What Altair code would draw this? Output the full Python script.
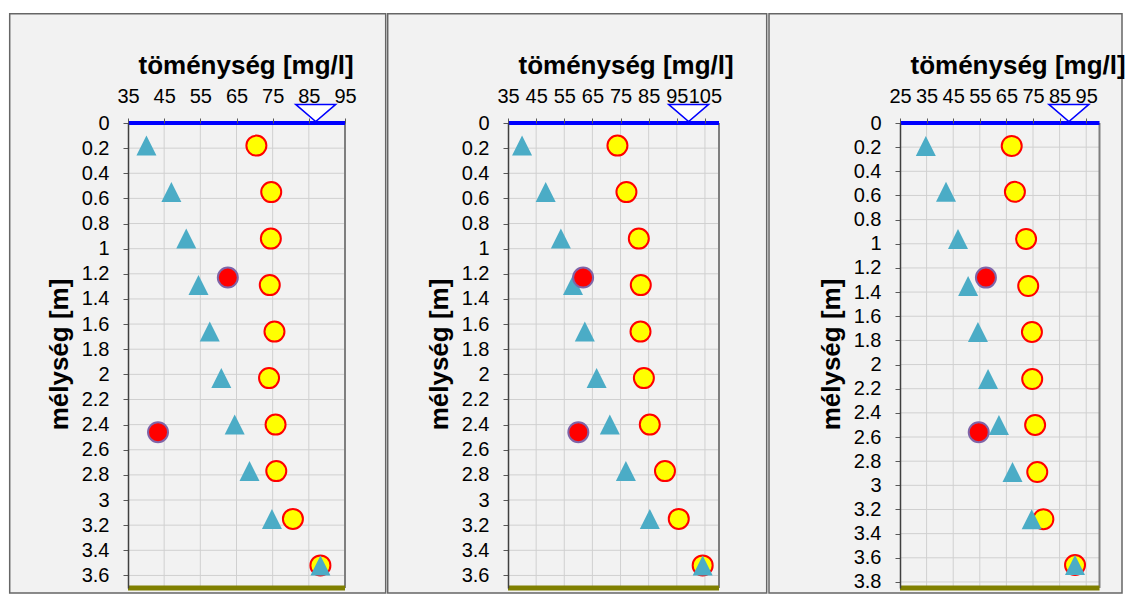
import altair as alt
import pandas as pd

FONT = "Liberation Sans"

# ---------------- data ----------------
# panel 1
depth_1 = [0.18, 0.55, 0.92, 1.29, 1.66, 2.03, 2.40, 2.77, 3.15, 3.52]
yellow_1 = [70.5, 74.6, 74.5, 74.2, 75.5, 74.0, 75.8, 76.0, 80.6, 88.2]
tri_1 = [40.1, 47.0, 51.1, 54.5, 57.6, 60.8, 64.5, 68.6, 74.8, 88.2]
red_depth_1 = [1.23, 2.46]
red_1 = [62.6, 43.3]
water_1 = 86.9

# panel 2
depth_2 = [0.18, 0.55, 0.92, 1.29, 1.66, 2.03, 2.40, 2.77, 3.15, 3.52]
yellow_2 = [73.9, 77.1, 81.5, 82.2, 82.1, 83.3, 85.4, 90.8, 95.7, 104.2]
tri_2 = [40.0, 48.4, 53.8, 58.1, 62.3, 66.5, 71.2, 76.9, 85.4, 104.2]
red_depth_2 = [1.23, 2.46]
red_2 = [61.7, 60.0]
water_2 = 99.2

# panel 3
depth_3 = [0.19, 0.57, 0.96, 1.35, 1.73, 2.12, 2.50, 2.89, 3.28, 3.66]
yellow_3 = [67.0, 68.2, 72.4, 73.2, 74.6, 74.7, 75.8, 76.6, 78.9, 90.8]
tri_3 = [34.7, 42.3, 46.8, 50.6, 54.3, 58.1, 62.2, 67.3, 74.5, 90.8]
red_depth_3 = [1.28, 2.56]
red_3 = [57.3, 54.6]
water_3 = 88.5

x_ticks_1 = [35, 45, 55, 65, 75, 85, 95]
x_ticks_2 = [35, 45, 55, 65, 75, 85, 95, 105]
x_ticks_3 = [25, 35, 45, 55, 65, 75, 85, 95]
y_ticks_12 = [round(0.2 * i, 1) for i in range(19)]
y_ticks_3 = [round(0.2 * i, 1) for i in range(20)]

X_TITLE = "töménység [mg/l]"
Y_TITLE = "mélység [m]"


def panel(depths, yellow, tri, red_d, red, water, xdom, xticks, ymax, yticks,
          width, xrange_px, height, box):
    xs = alt.Scale(domain=xdom, range=[0, xrange_px], nice=False, zero=False)
    ys = alt.Scale(domain=[0, ymax], reverse=True, nice=False, zero=False)

    x_axis = alt.Axis(
        orient="top", values=xticks, format="d", title=X_TITLE,
        titleFont=FONT, titleFontSize=26, titleFontWeight="bold", titleColor="black",
        titleX=117.6, titleY=-50, titleAlign="center", titleBaseline="alphabetic",
        labelFont=FONT, labelFontSize=20, labelColor="black", labelPadding=12,
        labelOverlap=False, labelFlush=False, tickSize=5, tickColor="#595959",
        domain=False, grid=False, zindex=1,
    )
    y_axis = alt.Axis(
        values=yticks, format=".1~f", title=Y_TITLE,
        titleFont=FONT, titleFontSize=26, titleFontWeight="bold", titleColor="black",
        titleX=-61, titleY=231, titleAlign="center", titleBaseline="alphabetic", titleAngle=270,
        labelFont=FONT, labelFontSize=20, labelColor="black", labelPadding=14,
        labelOverlap=False, labelFlush=False, tickSize=5, tickColor="#595959",
        domainColor="#404040", domainWidth=1.5, grid=False, zindex=1,
    )

    X = lambda f: alt.X(f, type="quantitative", scale=xs, axis=x_axis)
    Y = lambda f: alt.Y(f, type="quantitative", scale=ys, axis=y_axis)

    bg = alt.Chart(pd.DataFrame({"k": [0]})).mark_rect(
        fill="#F2F2F2", stroke="#666666", strokeWidth=1.5
    ).encode(x=alt.value(box[0]), x2=alt.value(box[1]),
             y=alt.value(box[2]), y2=alt.value(box[3]))

    vgrid = alt.Chart(pd.DataFrame({"v": xticks[1:]})).mark_rule(
        color="#D0D0D0", strokeWidth=1).encode(x=X("v"))
    hgrid = alt.Chart(pd.DataFrame({"d": yticks[1:], "v0": xdom[0], "v1": xdom[1]})).mark_rule(
        color="#D0D0D0", strokeWidth=1).encode(x=X("v0"), x2="v1", y=Y("d"))
    rborder = alt.Chart(pd.DataFrame({"v": [xdom[1]], "d0": [0], "d1": [ymax]})).mark_rule(
        color="#7F7F7F", strokeWidth=2).encode(x=X("v"), y=Y("d0"), y2="d1")
    ground = alt.Chart(pd.DataFrame({"v0": [xdom[0]], "v1": [xdom[1]], "d": [ymax]})).mark_rule(
        color="#808000", strokeWidth=5).encode(x=X("v0"), x2="v1", y=Y("d"))
    surface = alt.Chart(pd.DataFrame({"v0": [xdom[0]], "v1": [xdom[1]], "d": [0]})).mark_rule(
        color="#0000FF", strokeWidth=4).encode(x=X("v0"), x2="v1", y=Y("d"))

    yel = alt.Chart(pd.DataFrame({"v": yellow, "d": depths})).mark_point(
        shape="circle", filled=True, fill="#FFFF00", stroke="#FF0000", strokeWidth=2,
        size=400, opacity=1).encode(x=X("v"), y=Y("d"))
    trg = alt.Chart(pd.DataFrame({"v": tri, "d": depths})).mark_point(
        shape="M-1,1L1,1L0,-1Z", filled=True, fill="#4BACC6", strokeWidth=0,
        size=400, opacity=1).encode(x=X("v"), y=Y("d"))
    rd = alt.Chart(pd.DataFrame({"v": red, "d": red_d})).mark_point(
        shape="circle", filled=True, fill="#FF0000", stroke="#7F64A8", strokeWidth=2,
        size=400, opacity=1).encode(x=X("v"), y=Y("d"))
    wl = alt.Chart(pd.DataFrame({"v": [water], "d": [0]})).mark_point(
        shape="M-1,-0.43L1,-0.43L0,0.43Z", filled=True, fill="white", stroke="#0000FF",
        strokeWidth=1.5, size=1600, opacity=1, yOffset=-10).encode(x=X("v"), y=Y("d"))

    return alt.layer(bg, vgrid, hgrid, rborder, ground, surface, yel, trg, rd, wl).properties(
        width=width, height=height)


H = 465
p1 = panel(depth_1, yellow_1, tri_1, red_depth_1, red_1, water_1, [35, 95], x_ticks_1,
           3.7, y_ticks_12, 217, 217, H, (-118.3, 257.7, -109.3, 470))
p2 = panel(depth_2, yellow_2, tri_2, red_depth_2, red_2, water_2, [35, 110], x_ticks_2,
           3.7, y_ticks_12, 228.7, 211, H, (-120.3, 258.7, -109.3, 470))
p3 = panel(depth_3, yellow_3, tri_3, red_depth_3, red_3, water_3, [25, 100], x_ticks_3,
           3.85, y_ticks_3, 199.5, 199.5, H, (-131, 222, -109.3, 470))

chart = alt.hconcat(p1, p2, p3, spacing=163, bounds="flush").properties(
    padding={"left": 0, "top": 4, "right": 0, "bottom": 0},
    background="white",
).configure_view(strokeWidth=0)

chart.save("out.html", embed_options={"renderer": "svg", "actions": False})
